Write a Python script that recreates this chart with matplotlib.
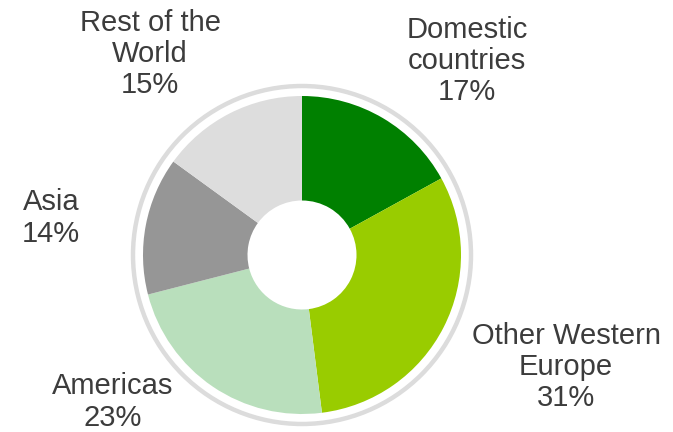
import matplotlib
matplotlib.use('Agg')
from matplotlib import pyplot as plt
from matplotlib.patches import Circle

regions = ['Domestic\ncountries', 'Other Western\nEurope', 'Americas', 'Asia', 'Rest of the\nWorld']
shares = [17, 31, 23, 14, 15]
colors = ['#008000', '#99cc00', '#b9dfbc', '#969696', '#dddddd']

# label centres in pixel coords (y from top)
label_pos = [(467, 61), (566, 367), (113, 402), (51, 218), (150, 54)]

plt.rcParams['font.family'] = ['Liberation Sans', 'DejaVu Sans']

fig = plt.figure(figsize=(6.73, 4.32), dpi=100)
ax = fig.add_axes([0, 0, 1, 1])
ax.set_xlim(0, 673)
ax.set_ylim(0, 432)
ax.set_aspect('equal')
ax.axis('off')

cx, cy = 302, 432 - 255
r_out = 159
r_in = 54.5

ax.pie(shares, colors=colors, startangle=90, counterclock=False,
       radius=r_out, center=(cx, cy),
       wedgeprops=dict(width=r_out - r_in, linewidth=0))

ring = Circle((cx, cy), 169, fill=False, edgecolor='#dcdcdc', linewidth=3.2)
ax.add_patch(ring)

for name, val, (x, y) in zip(regions, shares, label_pos):
    ax.text(x, 432 - y, '%s\n%d%%' % (name, val), ha='center', va='center',
            fontsize=21, color='#3c3c3c', linespacing=1.15)

ax.set_xlim(0, 673)
ax.set_ylim(0, 432)

fig.savefig('out.png', dpi=100)
